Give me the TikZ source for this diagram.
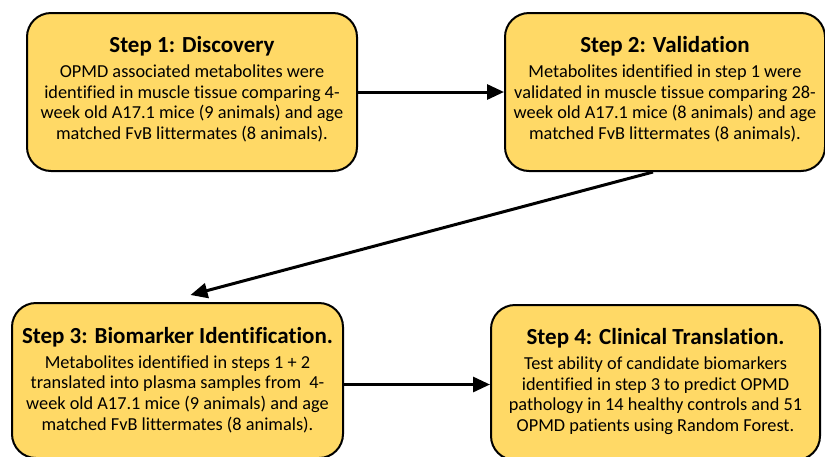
\documentclass[tikz,border=0pt]{standalone}
\usepackage{fontspec}
\setmainfont[Ligatures=NoCommon]{Carlito}
\usetikzlibrary{arrows.meta}
\definecolor{boxfill}{HTML}{FFD966}
\tikzset{
  stepbox/.style={draw=black, line width=2pt, fill=boxfill, rounded corners=24pt, minimum width=#1, inner sep=0pt},
  boxtext/.style={anchor=north, align=center, inner sep=0pt, font=\fontsize{18.3}{20.7}\selectfont},
  conn/.style={line width=3pt, -{Triangle[length=17pt,width=15pt]}}
}
\newcommand{\steptitle}[1]{{\bfseries\fontsize{23}{26}\selectfont #1}}
\begin{document}
\begin{tikzpicture}[x=1pt,y=-1pt]
\useasboundingbox (0,0) rectangle (825,456);
\node[stepbox=330pt, minimum height=158pt] (b1) at (192,92) {};
\node[stepbox=320pt, minimum height=158pt] (b2) at (665,92) {};
\node[stepbox=331pt, minimum height=155pt] (b3) at (177.5,380.5) {};
\node[stepbox=329pt, minimum height=155pt] (b4) at (655.5,382.5) {};
\node[boxtext] (t1) at ([yshift=-24.5pt]b1.north) {\steptitle{Step 1: Discovery}\\[4pt]
OPMD associated metabolites were\\
identified in muscle tissue comparing 4-\\
week old A17.1 mice (9 animals) and age\\
matched FvB littermates (8 animals).};
\node[boxtext] (t2) at ([yshift=-24.5pt]b2.north) {\steptitle{Step 2: Validation}\\[4pt]
Metabolites identified in step 1 were\\
validated in muscle tissue comparing 28-\\
week old A17.1 mice (8 animals) and age\\
matched FvB littermates (8 animals).};
\node[boxtext] (t3) at ([yshift=-25pt]b3.north) {\steptitle{Step 3: Biomarker Identification.}\\[4pt]
Metabolites identified in steps 1 + 2\\
translated into plasma samples from\ \ 4-\\
week old A17.1 mice (9 animals) and age\\
matched FvB littermates (8 animals).};
\node[boxtext] (t4) at ([yshift=-24.5pt]b4.north) {\steptitle{Step 4: Clinical Translation.}\\[4pt]
Test ability of candidate biomarkers\\
identified in step 3 to predict OPMD\\
pathology in 14 healthy controls and 51\\
OPMD patients using Random Forest.};
\draw[conn] (b1.east) -- (b2.west);
\draw[conn] ([xshift=-12pt]b2.south) -- ([xshift=13pt,yshift=7pt]b3.north);
\draw[conn] ([yshift=-4pt]b3.east) -- ([yshift=-4pt]b3.east -| b4.west);
\end{tikzpicture}
\end{document}
